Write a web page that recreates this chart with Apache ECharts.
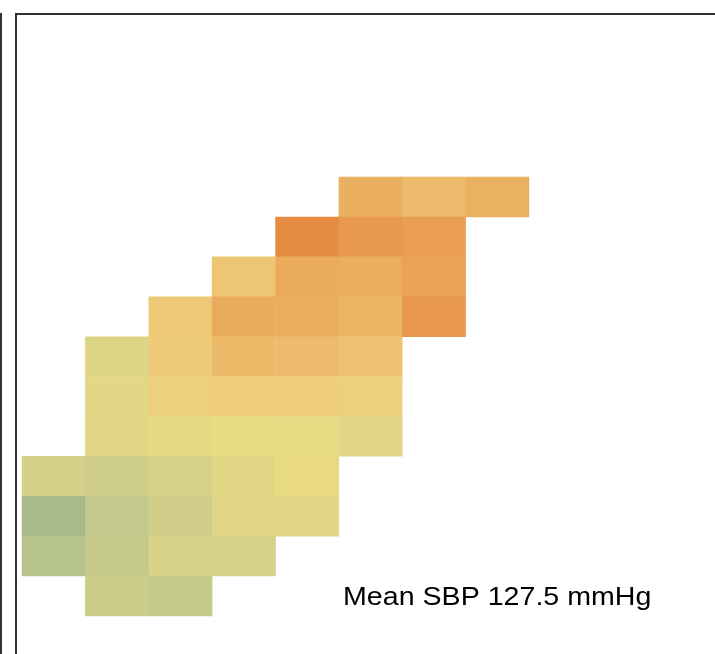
<!DOCTYPE html>
<html>
<head>
<meta charset="utf-8">
<script src="https://cdn.jsdelivr.net/npm/echarts@6/dist/echarts.min.js"></script>
<style>
  html, body { margin: 0; padding: 0; background: #fff; }
  #main { width: 715px; height: 654px; }
</style>
</head>
<body>
<div id="main"></div>
<script>
var chartDom = document.getElementById('main');
var myChart = echarts.init(chartDom);
var option;

// columns left -> right, rows top -> bottom
var xCats = ['1', '2', '3', '4', '5', '6', '7', '8'];
var yCats = ['11', '10', '9', '8', '7', '6', '5', '4', '3', '2', '1'];

// mean SBP per cell, null = no cell
var row11 = [null, null, null, null, null, 134.5, 132.8, 134.2];
var row10 = [null, null, null, null, 139.5, 137.4, 136.8, null];
var row9  = [null, null, null, 131.3, 135.0, 134.6, 136.2, null];
var row8  = [null, null, 130.8, 135.0, 134.8, 133.6, 137.6, null];
var row7  = [null, 121.8, 130.6, 133.0, 132.8, 131.6, null, null];
var row6  = [null, 123.2, 129.6, 130.2, 130.2, 130.0, null, null];
var row5  = [null, 122.6, 124.0, 125.0, 124.4, 122.6, null, null];
var row4  = [119.6, 118.4, 120.0, 123.2, 125.4, null, null, null];
var row3  = [110.6, 115.4, 118.6, 122.6, 122.8, null, null, null];
var row2  = [113.2, 115.8, 120.6, 119.8, null, null, null, null];
var row1  = [null, 117.4, 116.4, null, null, null, null, null];

var rows = [row11, row10, row9, row8, row7, row6, row5, row4, row3, row2, row1];
var meanSbp = 127.5;

var data = [];
rows.forEach(function (row, y) {
    row.forEach(function (v, x) {
        if (v !== null) data.push([x, y, v]);
    });
});

option = {
    backgroundColor: '#fff',
    animation: false,
    grid: {
        left: 22,
        top: 177,
        width: 507,
        height: 439
    },
    xAxis: {
        type: 'category',
        data: xCats,
        show: false
    },
    yAxis: {
        type: 'category',
        data: yCats,
        inverse: true,
        show: false
    },
    visualMap: {
        show: false,
        min: 110,
        max: 140,
        dimension: 2,
        inRange: {
            color: ['#a4b989', '#c0c88a', '#d6d189', '#e9db82', '#eecf7c', '#ebab5d', '#e5873f']
        }
    },
    graphic: [
        {
            type: 'line',
            shape: { x1: 1, y1: 13, x2: 1, y2: 660 },
            style: { stroke: '#333', lineWidth: 2 }
        },
        {
            type: 'rect',
            shape: { x: 16, y: 14, width: 720, height: 660 },
            style: { fill: null, stroke: '#333', lineWidth: 2 }
        },
        {
            type: 'text',
            x: 343,
            y: 598,
            scaleX: 1.1,
            style: {
                text: 'Mean SBP ' + meanSbp + ' mmHg',
                font: '26px "Liberation Sans", Arial, sans-serif',
                fill: '#000',
                verticalAlign: 'middle'
            }
        }
    ],
    series: [
        {
            type: 'heatmap',
            data: data,
            itemStyle: { borderWidth: 0 },
            emphasis: { disabled: true }
        }
    ]
};

option && myChart.setOption(option);
</script>
</body>
</html>
